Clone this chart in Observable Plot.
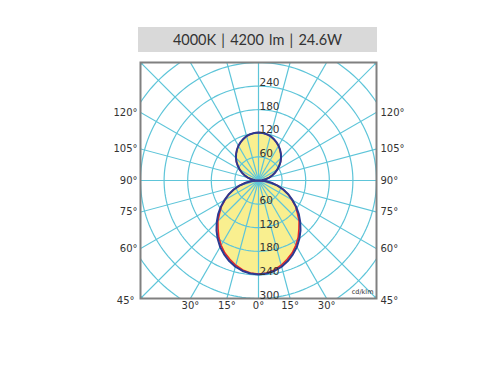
<!DOCTYPE html>
<html>
<head>
<meta charset="utf-8">
<script src="https://cdn.jsdelivr.net/npm/d3@7"></script>
<script src="https://cdn.jsdelivr.net/npm/@observablehq/plot@0.6"></script>
<style>
  body { margin: 0; background: #fff; }
  #wrap { position: relative; width: 500px; height: 370px; background: #fff; }
  #title { position: absolute; left: 138px; top: 27px; width: 239px; height: 25px;
           background: #d9d9d9; display: flex; align-items: center; justify-content: center;
           font: 14.5px Lato, "Open Sans", sans-serif; word-spacing: 1.5px; color: #333; }
  #chart { position: absolute; left: 0; top: 60px; }
</style>
</head>
<body>
<div id="wrap">
  <div id="title"></div>
  <div id="chart"></div>
</div>
<script>
// ---- data ----
const titleParts = ["4000K", "4200 lm", "24.6W"];
const unit = "cd/klm";
// gamma angles (0 = straight down, 180 = straight up)
const gammas = [0,5,10,15,20,25,30,35,40,45,50,55,60,65,70,75,80,85,90,
                95,100,105,110,115,120,125,130,135,140,145,150,155,160,165,170,175,180];
// C0-C180 plane (blue)
const planeC0 = [239,237.5,233.5,227,218,207,195,181,166,150,134,117,100,84,67,50,33,17,0,
                 9,18.5,28,37,46,55,64,73,81,88.5,95.5,102,107.5,112.5,117,119.5,121.5,122];
// C90-C270 plane (red)
const planeC90 = [238,236,231,223,213,203,190,176,160,146,129,115,98,83,67,50,33,17,0,
                  9,18.5,28,37,46,55,64,73,81,88.5,95.5,102,107.5,112.5,117,119.5,121.5,122];
const ringValues = [60,120,180,240,300,360,420];
const ringLabelsTop = [60,120,180,240];
const ringLabelsBottom = [60,120,180,240,300];
const radialStep = 15;
const sideAngles = [60,75,90,105,120];
const cornerAngle = 45;
const bottomAngles = [-30,-15,0,15,30];

document.getElementById("title").textContent = titleParts.join(" | ");

const rad = d => d * Math.PI / 180;
const R = 300; // half-extent of the frame in cd/klm

// closed outline: right half (C0 / C90) then left half (C180 / C270) back
function outline(vals) {
  const pts = [];
  gammas.forEach((g, i) => pts.push({x: vals[i] * Math.sin(rad(g)), y: -vals[i] * Math.cos(rad(g))}));
  for (let i = gammas.length - 1; i >= 0; i--) {
    const g = gammas[i];
    pts.push({x: -vals[i] * Math.sin(rad(g)), y: -vals[i] * Math.cos(rad(g))});
  }
  return pts;
}
const blue = outline(planeC0);
const red = outline(planeC90);

const rings = [];
for (const r of ringValues) for (let a = 0; a <= 360; a += 2)
  rings.push({r, x: r * Math.sin(rad(a)), y: r * Math.cos(rad(a))});

const radials = d3.range(0, 360, radialStep);

const grid = "#5ec5d9";
const txt = "#333";

const chart = Plot.plot({
  width: 500, height: 310,
  marginLeft: 140, marginRight: 124, marginTop: 2, marginBottom: 72,
  x: {domain: [-R, R], axis: null},
  y: {domain: [-R, R], axis: null},
  style: {fontFamily: "DejaVu Sans, sans-serif", fontSize: "10px", background: "white", overflow: "visible"},
  marks: [
    Plot.line(blue, {x: "x", y: "y", fill: "#f9ef8f", stroke: "none"}),
    Plot.line(rings, {x: "x", y: "y", z: "r", stroke: grid, strokeWidth: 1.2, clip: true}),
    Plot.link(radials, {x1: 0, y1: 0, x2: a => 700 * Math.sin(rad(a)), y2: a => 700 * Math.cos(rad(a)),
                        stroke: grid, strokeWidth: 1.2, clip: true}),
    Plot.frame({stroke: "#808080", strokeWidth: 2}),
    Plot.line(red, {x: "x", y: "y", stroke: "#e8262a", strokeWidth: 1.6}),
    Plot.line(blue, {x: "x", y: "y", stroke: "#2b3a92", strokeWidth: 2}),
    Plot.text(ringLabelsTop, {x: 0, y: d => d, text: d => String(d), dx: 1, textAnchor: "start", lineAnchor: "bottom", fill: txt, fontSize: 10.5}),
    Plot.text(ringLabelsBottom, {x: 0, y: d => -d, text: d => String(d), dx: 1, textAnchor: "start", lineAnchor: "bottom", fill: txt, fontSize: 10.5}),
    // side labels (left & right)
    Plot.text(sideAngles, {y: a => -R * Math.cos(rad(a)) / Math.sin(rad(a)), frameAnchor: "left", text: a => a + "°", textAnchor: "end", dx: -3, fill: txt}),
    Plot.text(sideAngles, {y: a => -R * Math.cos(rad(a)) / Math.sin(rad(a)), frameAnchor: "right", text: a => a + "°", textAnchor: "start", dx: 4, fill: txt}),
    Plot.text([cornerAngle], {frameAnchor: "bottom-left", text: a => a + "°", textAnchor: "end", dx: -6, dy: 5, fill: txt}),
    Plot.text([cornerAngle], {frameAnchor: "bottom-right", text: a => a + "°", textAnchor: "start", dx: 4, dy: 5, fill: txt}),
    Plot.text(bottomAngles, {x: a => R * Math.tan(rad(a)), frameAnchor: "bottom", text: a => Math.abs(a) + "°", dy: 10, fill: txt}),
    Plot.text([unit], {frameAnchor: "bottom-right", dx: -3, dy: -5, textAnchor: "end", fontSize: 6.5, fill: txt})
  ]
});
document.getElementById("chart").appendChild(chart);
</script>
</body>
</html>
